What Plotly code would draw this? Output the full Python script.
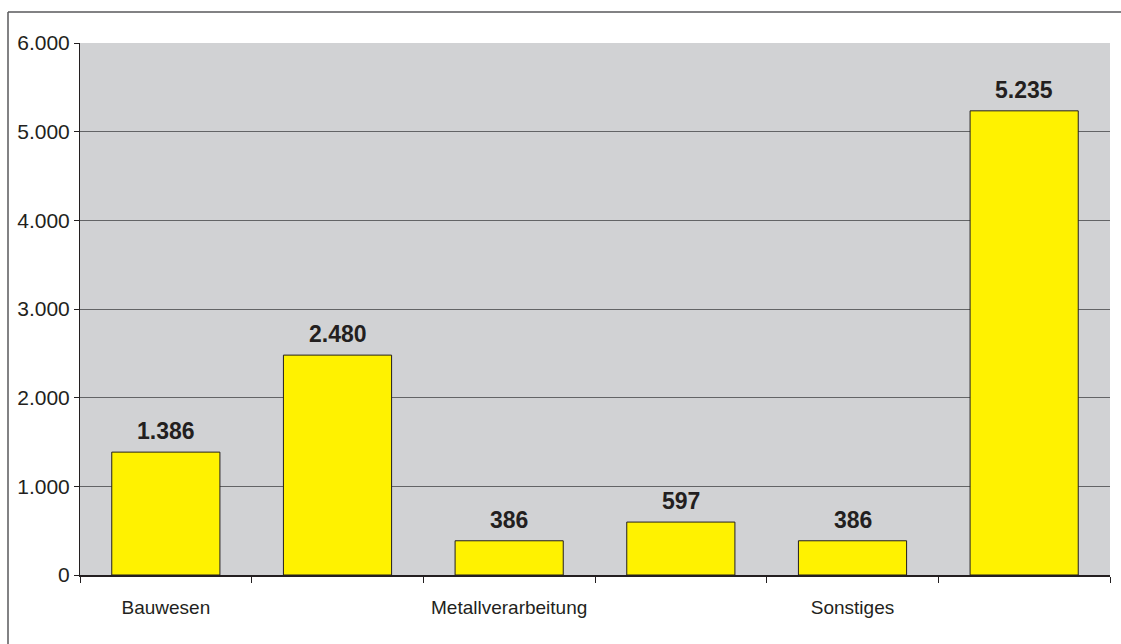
import plotly.graph_objects as go

# Category labels (only every second category carries a visible label)
labels = ["Bauwesen", "", "Metallverarbeitung", "", "Sonstiges", ""]
values = [1386, 2480, 386, 597, 386, 5235]
y_ticks = [0, 1000, 2000, 3000, 4000, 5000, 6000]

W, H = 1121, 644
M_L, M_R, M_T, M_B = 80, 11, 43, 69
PW, PH = W - M_L - M_R, H - M_T - M_B

TEXT = "#231F20"
FONT = "Liberation Sans, Arial, sans-serif"

xs = list(range(len(values)))


def fmt(v):
    return f"{v:,}".replace(",", ".")


fig = go.Figure(
    go.Bar(
        x=xs,
        y=values,
        marker=dict(color="#FFF200", line=dict(color=TEXT, width=1)),
        hoverinfo="skip",
    )
)

# value labels above bars
for x, v in zip(xs, values):
    fig.add_annotation(
        x=x, y=v, xref="x", yref="y",
        text=f"<b>{fmt(v)}</b>", showarrow=False,
        yanchor="middle", yshift=21,
        font=dict(family=FONT, size=23, color=TEXT),
    )


def px_x(p):
    return (p - M_L) / PW


def px_y(p):
    return (H - M_B - p) / PH


# outer chart frame (left and top edges visible)
frame = dict(color="#58595B", width=1.5)
fig.add_shape(type="line", xref="paper", yref="paper",
              x0=px_x(8), x1=px_x(8), y0=px_y(12), y1=px_y(H + 10), line=frame)
fig.add_shape(type="line", xref="paper", yref="paper",
              x0=px_x(8), x1=px_x(W), y0=px_y(12), y1=px_y(12), line=frame)

fig.update_layout(
    width=W, height=H,
    margin=dict(l=M_L, r=M_R, t=M_T, b=M_B, pad=0),
    paper_bgcolor="white",
    plot_bgcolor="#D1D2D4",
    separators=",.",
    bargap=0.37,
    showlegend=False,
    font=dict(family=FONT, color=TEXT),
    xaxis=dict(
        range=[-0.5, len(values) - 0.5],
        tickmode="array", tickvals=xs, ticktext=labels,
        ticks="", showgrid=False, zeroline=False,
        showline=True, linecolor=TEXT, linewidth=1.5,
        tickfont=dict(family=FONT, size=19, color=TEXT),
        ticklabelstandoff=14,
        minor=dict(tickmode="array",
                   tickvals=[i - 0.5 for i in range(len(values) + 1)],
                   ticks="outside", ticklen=6, tickcolor=TEXT, tickwidth=1,
                   showgrid=False),
    ),
    yaxis=dict(
        range=[0, 6000],
        tickmode="array", tickvals=y_ticks,
        tickformat=",d",
        ticks="outside", ticklen=5, tickcolor=TEXT, tickwidth=1,
        showgrid=True, gridcolor="#636466", gridwidth=1,
        zeroline=False,
        showline=True, linecolor=TEXT, linewidth=1,
        tickfont=dict(family=FONT, size=21, color=TEXT),
    ),
)

fig.write_html("out.html")
